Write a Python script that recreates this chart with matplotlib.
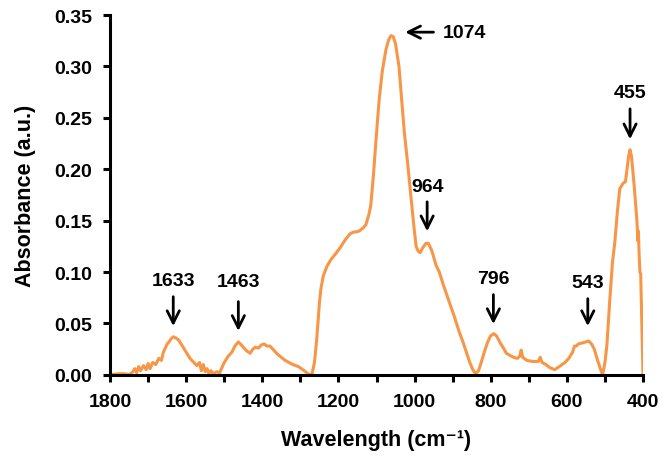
import matplotlib.pyplot as plt
import numpy as np

# FTIR spectrum (wavenumber in cm-1, absorbance)
wavenumber = [
    1800, 1780, 1760, 1750, 1740, 1735, 1730, 1725, 1720, 1712, 1705, 1700,
    1695, 1688, 1680, 1672, 1665, 1660, 1655, 1650, 1645, 1640, 1634, 1628,
    1620, 1610, 1600, 1590, 1580, 1572, 1565, 1560, 1555, 1550, 1545, 1540,
    1535, 1528, 1520, 1512, 1505, 1500, 1490, 1480, 1472, 1463, 1455, 1448,
    1440, 1432, 1425, 1418, 1410, 1403, 1395, 1388, 1380, 1370, 1360, 1350,
    1340, 1330, 1320, 1305, 1290, 1280, 1270, 1263, 1257, 1250, 1246, 1240,
    1231, 1220, 1207, 1195, 1181, 1170, 1160, 1154, 1145, 1135, 1128, 1120,
    1115, 1108, 1100, 1093, 1085, 1075, 1068, 1062, 1056, 1050, 1041, 1035,
    1027, 1018, 1009, 1002, 996, 990, 985, 978, 970, 964, 955, 943, 935, 925,
    909, 895, 883, 873, 864, 855, 847, 840, 832, 825, 817, 808, 800, 792, 785,
    775, 765, 759, 750, 740, 730, 724, 720, 716, 705, 690, 675, 670, 665, 655,
    645, 632, 620, 605, 595, 585, 580, 575, 570, 560, 550, 543, 535, 528, 520,
    512, 506, 500, 495, 487, 480, 474, 467, 461, 453, 446, 442, 438, 434, 430,
    425, 421, 416, 413, 412, 410, 408, 406, 403, 400,
]
absorbance = [
    0.000, 0.001, 0.001, 0.000, 0.003, 0.006, 0.002, 0.008, 0.004, 0.009, 0.005, 0.011,
    0.006, 0.012, 0.010, 0.016, 0.014, 0.022, 0.026, 0.030, 0.032, 0.035, 0.037, 0.036,
    0.034, 0.028, 0.022, 0.016, 0.012, 0.009, 0.012, 0.004, 0.010, 0.003, 0.006, 0.001,
    0.004, 0.001, 0.003, 0.002, 0.008, 0.012, 0.018, 0.022, 0.028, 0.032, 0.029, 0.026,
    0.023, 0.021, 0.025, 0.027, 0.026, 0.029, 0.030, 0.028, 0.028, 0.024, 0.020, 0.017,
    0.014, 0.012, 0.010, 0.008, 0.004, 0.001, 0.000, 0.012, 0.035, 0.070, 0.084, 0.096,
    0.105, 0.112, 0.118, 0.124, 0.132, 0.137, 0.139, 0.139, 0.140, 0.143, 0.146, 0.156,
    0.165, 0.195, 0.235, 0.268, 0.295, 0.317, 0.326, 0.330, 0.329, 0.322, 0.300, 0.272,
    0.236, 0.205, 0.171, 0.145, 0.125, 0.120, 0.119, 0.124, 0.128, 0.128, 0.121, 0.106, 0.100, 0.088,
    0.071, 0.056, 0.042, 0.032, 0.022, 0.012, 0.005, 0.001, 0.004, 0.012, 0.022, 0.032, 0.038, 0.040, 0.038,
    0.031, 0.025, 0.021, 0.019, 0.017, 0.016, 0.018, 0.024, 0.017, 0.014, 0.013, 0.013, 0.017, 0.012, 0.010,
    0.007, 0.005, 0.008, 0.012, 0.016, 0.022, 0.028, 0.028, 0.030, 0.031, 0.032, 0.033, 0.030, 0.025, 0.015,
    0.006, 0.000, 0.012, 0.028, 0.074, 0.110, 0.129, 0.160, 0.181, 0.186, 0.188, 0.200, 0.212, 0.219, 0.212,
    0.192, 0.174, 0.150, 0.130, 0.140, 0.115, 0.100, 0.098, 0.050, 0.000,
]

peak_labels = ["1633", "1463", "964", "796", "543", "455"]
peak_x = [1634, 1463, 967, 793, 545, 434]

plt.rcParams['font.family'] = ['Liberation Sans', 'DejaVu Sans']
plt.rcParams['font.weight'] = 'bold'
plt.rcParams['axes.labelweight'] = 'bold'

fig = plt.figure(figsize=(6.67, 4.6), dpi=100)
ax = fig.add_axes([0.165, 0.183, 0.799, 0.782])

line_colour = '#F79646'
ax.plot(wavenumber, absorbance, color=line_colour, linewidth=2.2, solid_joinstyle='round')

ax.set_xlim(1800, 400)
ax.set_ylim(0, 0.35)
ax.set_xticks(np.arange(1800, 399, -200))
ax.set_xticks(np.arange(1700, 400, -200), minor=True)
ax.set_yticks(np.arange(0, 0.351, 0.05))
ax.set_yticklabels([f"{v:.2f}" for v in np.arange(0, 0.351, 0.05)], fontweight='bold')
ax.set_xticklabels([str(v) for v in np.arange(1800, 399, -200)], fontweight='bold')

for side in ['top', 'right']:
    ax.spines[side].set_visible(False)
for side in ['left', 'bottom']:
    ax.spines[side].set_linewidth(2.2)
ax.tick_params(axis='both', which='both', direction='out', width=2.2, length=5, labelsize=14)
ax.tick_params(axis='x', pad=8)
ax.tick_params(axis='y', pad=8)

ax.set_xlabel('Wavelength (cm\u207b\u00b9)', fontsize=15.5, fontweight='bold', labelpad=14)
ax.set_ylabel('Absorbance (a.u.)', fontsize=15.5, fontweight='bold', labelpad=13)

# vertical arrows: (tip y, tail y, text y) per peak
arrow_tip = [0.0447, 0.040, 0.137, 0.0467, 0.0447, 0.2265]
arrow_tail = [0.0787, 0.0739, 0.171, 0.0807, 0.0768, 0.2615]
text_y = [0.0835, 0.0825, 0.175, 0.0855, 0.082, 0.266]
for label, x, tip, tail, ty in zip(peak_labels, peak_x, arrow_tip, arrow_tail, text_y):
    ax.annotate('', xy=(x, tip), xytext=(x, tail),
                arrowprops=dict(arrowstyle='->', color='black', lw=2.0, mutation_scale=22))
    ax.text(x, ty, label, ha='center', va='bottom', fontsize=14, fontweight='bold')

# horizontal arrow for the main band
ax.annotate('', xy=(1032, 0.3334), xytext=(943, 0.3334),
            arrowprops=dict(arrowstyle='->', color='black', lw=2.0, mutation_scale=22))
ax.text(925, 0.3334, '1074', ha='left', va='center', fontsize=14, fontweight='bold')

fig.savefig('out.png', dpi=100)
